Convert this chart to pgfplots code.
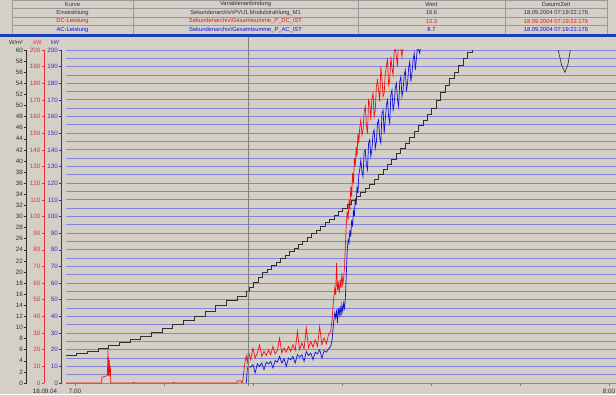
\documentclass[border=0pt]{standalone}
\usepackage{fontspec}
\setmainfont{Liberation Sans}
\usepackage{pgfplots}
\pgfplotsset{compat=1.18}

\definecolor{winbg}{HTML}{D4D0C8}
\definecolor{gridblue}{HTML}{8484DA}
\definecolor{dcred}{HTML}{F01010}
\definecolor{acblue}{HTML}{1010E0}
\definecolor{irrgray}{HTML}{303030}
\definecolor{barblue}{HTML}{1C3FB8}
\definecolor{lblred}{HTML}{E83030}
\definecolor{lblblue}{HTML}{3030C8}
\definecolor{tableline}{HTML}{9A9A9A}

\pgfplotsset{
  trendarea/.style={
    at={(66bp,11bp)}, anchor=south west,
    scale only axis, width=550bp, height=333bp,
    xmin=-1, xmax=60.8,
  },
  scaleaxis/.style={
    anchor=south west,
    scale only axis, width=1bp, height=333bp,
    xmin=0, xmax=1, ymin=0,
    axis x line=none, axis y line=left,
    tick align=outside, major tick length=2.5bp,
    yticklabel style={font=\fontsize{6.3}{7}\selectfont, inner sep=1.2bp},
    /pgf/number format/assume math mode=true,
  },
}

\begin{document}
\begin{tikzpicture}[x=1bp, y=1bp, font=\fontsize{5.8}{6.5}\selectfont]
% window background
\fill[winbg] (0,0) rectangle (616,394);

% ---- curve table ----
\foreach \yy in {394,385.5,377,368.5,360}
  \draw[tableline, line width=0.6bp] (12,\yy) -- (607,\yy);
\foreach \xx in {12,133,358,505,607}
  \draw[tableline, line width=0.6bp] (\xx,360) -- (\xx,394);
\fill[barblue] (0,357) rectangle (616,360);

\begin{scope}[text=irrgray]
\node at (72.5,389.75)  {Kurve};
\node at (245.5,389.75) {Variablenanbindung};
\node at (431.5,389.75) {Wert};
\node at (556,389.75)   {Datum/Zeit};

\node at (72.5,381.25)  {Einstrahlung};
\node at (245.5,381.25) {Sekundenarchiv\textbackslash PVU1.Modulstrahlung\_M1};
\node at (431.5,381.25) {16.6};
\node at (556,381.25)   {18.09.2004 07:19:22.176};
\end{scope}

\begin{scope}[text=dcred]
\node at (72.5,372.75)  {DC-Leistung};
\node at (245.5,372.75) {Sekundenarchiv\textbackslash Gesamtsumme\_P\_DC\_IST};
\node at (431.5,372.75) {12.3};
\node at (556,372.75)   {18.09.2004 07:19:22.176};
\end{scope}

\begin{scope}[text=acblue]
\node at (72.5,364.25)  {AC-Leistung};
\node at (245.5,364.25) {Sekundenarchiv\textbackslash Gesamtsumme\_P\_AC\_IST};
\node at (431.5,364.25) {8.7};
\node at (556,364.25)   {18.09.2004 07:19:22.176};
\end{scope}

% ---- power trends (kW) with grid and time axis ----
\begin{axis}[trendarea,
  ymin=0, ymax=200,
  axis line style={draw=none},
  ytick={0,5,...,200}, yticklabels={}, ytick style={draw=none},
  ymajorgrids, grid style={gridblue, line width=0.9bp},
  xtick={0,10,...,60}, xticklabels={7:00,,,,,,8:00},
  xtick pos=bottom, tick align=outside, major tick length=3bp,
  xtick style={gray, line width=0.6bp},
  xticklabel style={font=\fontsize{6.3}{7}\selectfont, text=irrgray},
  /pgf/number format/assume math mode=true,
]
% DC-Leistung
\addplot[dcred, line width=0.7bp] coordinates {
(-1,0) (2.9,0) (3.0,0.5) (3.05,3.6) (3.3,3.8) (3.5,4.2) (3.65,4.5) (3.72,20)
(3.78,4.5) (3.86,14) (3.92,4) (3.98,10) (4.04,0) (6.5,0) (6.6,0.4) (6.7,0)
(11,0) (11.1,0.4) (11.2,0) (18.2,0) (18.25,1.2) (18.65,1.3) (18.75,0.3)
(18.85,0.5) (19.0,8) (19.15,14) (19.25,16.3) (19.37,12.3) (19.5,19)
(19.75,14) (20.0,21) (20.25,15) (20.5,18) (20.75,23) (21.0,16) (21.25,19)
(21.5,16.5) (21.75,20) (22.0,17) (22.25,22) (22.5,17.5) (22.75,19.5)
(23.0,27) (23.25,18) (23.5,21) (23.75,18.5) (24.0,22) (24.25,19) (24.5,23)
(24.75,19.5) (25.0,31) (25.25,20) (25.5,24) (25.75,20.5) (26.0,33) (26.25,21)
(26.5,25) (26.75,21.5) (27.0,26) (27.25,22) (27.5,34) (27.75,23) (28.0,27)
(28.25,23.5) (28.5,29) (28.75,31)
(28.9,38) (29.0,46) (29.1,52) (29.2,57) (29.3,53) (29.4,72) (29.5,56)
(29.6,60) (29.7,54) (29.8,62) (29.9,57) (30.0,66) (30.1,59) (30.2,63)
(30.3,70) (30.4,84) (30.5,96) (30.6,103) (30.7,98) (30.8,110) (30.9,104)
(31.0,118) (31.1,112) (31.2,126) (31.3,120) (31.4,135) (31.5,130) (31.6,142)
(31.7,136) (31.8,150) (31.9,144) (32.0,153)
(32.125,158) (32.25,149) (32.375,152) (32.5,163) (32.625,166) (32.75,155)
(32.875,150) (33.0,170) (33.125,168) (33.25,158) (33.375,171) (33.5,174)
(33.625,160) (33.75,164) (33.875,178) (34.0,182) (34.125,176) (34.25,169)
(34.375,190) (34.5,183) (34.625,172) (34.75,174) (34.875,186) (35.0,190)
(35.125,195) (35.25,179) (35.375,182) (35.5,196) (35.625,189) (35.75,185)
(35.875,199) (36.0,201) (36.125,196) (36.25,190) (36.375,208) (36.5,205)
(36.75,196) (37.0,210) (37.25,202) (37.5,215) (37.75,220)
};
% AC-Leistung
\addplot[acblue, line width=0.7bp] coordinates {
(19.25,0) (19.3,3) (19.37,8.7) (19.5,10)
(19.75,9.5) (20.0,11) (20.25,6) (20.5,11.5) (20.75,10) (21.0,12) (21.25,8)
(21.5,12.5) (21.75,11.5) (22.0,13) (22.25,9) (22.5,13.5) (22.75,12.5)
(23.0,16) (23.25,12) (23.5,14.5) (23.75,10) (24.0,15) (24.25,14) (24.5,16)
(24.75,12) (25.0,17) (25.25,15.5) (25.5,17) (25.75,13) (26.0,19) (26.25,16.5)
(26.5,18) (26.75,14) (27.0,18.5) (27.25,17.5) (27.5,20) (27.75,15)
(28.0,19.5) (28.25,18.5) (28.5,20.5) (28.75,22)
(28.9,26) (29.0,32) (29.1,38) (29.2,42) (29.3,39) (29.4,44) (29.5,36)
(29.6,45) (29.7,41) (29.8,46) (29.9,40) (30.0,47) (30.1,43) (30.2,48)
(30.3,45) (30.4,52) (30.5,66) (30.6,80) (30.7,86) (30.8,84) (30.9,92)
(31.0,88) (31.1,98) (31.2,94) (31.3,104) (31.4,100) (31.5,111) (31.6,107)
(31.7,118) (31.8,114) (31.9,125) (32.0,128)
(32.125,134) (32.25,127) (32.375,124) (32.5,139) (32.625,140) (32.75,131)
(32.875,128) (33.0,144) (33.125,146) (33.25,136) (33.375,140) (33.5,150)
(33.625,152) (33.75,141) (33.875,145) (34.0,156) (34.125,158) (34.25,147)
(34.375,144) (34.5,162) (34.625,164) (34.75,150) (34.875,158) (35.0,167)
(35.125,170) (35.25,160) (35.375,156) (35.5,173) (35.625,176) (35.75,164)
(35.875,168) (36.0,177) (36.125,180) (36.25,170) (36.375,166) (36.5,181)
(36.625,184) (36.75,172) (36.875,176) (37.0,185) (37.125,188) (37.25,175)
(37.375,180) (37.5,189) (37.625,193) (37.75,181) (37.875,186) (38.0,194)
(38.125,198) (38.25,188) (38.5,202) (38.75,198) (39.0,210)
};
\end{axis}

% ---- irradiance (W/m2), logged as steps ----
\begin{axis}[trendarea, ymin=0, ymax=60, hide axis]
\addplot[const plot, irrgray, line width=0.65bp] coordinates {
(-1.0,4.9) (0.2,5.3) (1.4,5.7) (2.6,6.2) (3.8,6.7) (5.0,7.3) (6.2,7.9)
(7.4,8.5) (8.6,9.2) (9.8,9.85) (11.0,10.6) (12.2,11.3) (13.4,12.0)
(14.6,13.0) (15.8,14.0) (17.0,14.9) (18.2,15.7) (19.3,16.6) (19.6,17.2)
(20.1,18.2) (20.6,19.1) (21.1,19.9) (21.6,20.5) (22.1,21.15) (22.6,21.8)
(23.1,22.4) (23.6,23.05) (24.1,23.7) (24.6,24.3) (25.1,24.95) (25.6,25.6)
(26.1,26.25) (26.6,26.9) (27.1,27.6) (27.6,28.25) (28.1,28.9) (28.6,29.55)
(29.1,30.2) (29.6,30.9) (30.1,31.55) (30.6,32.2) (31.1,32.9) (31.6,33.6)
(32.1,34.3) (32.6,35.0) (33.1,35.85) (33.6,36.75) (34.1,37.65) (34.6,38.55)
(35.1,39.45) (35.6,40.35) (36.1,41.3) (36.6,42.2) (37.1,43.25) (37.6,44.3)
(38.1,45.35) (38.6,46.4) (39.1,47.4) (39.6,48.45) (40.1,49.5) (40.6,50.95)
(41.1,52.45) (41.6,53.65) (42.1,54.85) (42.6,56.05) (43.1,57.25)
(43.6,58.45) (44.1,59.6) (44.6,60.5) (45.1,61.4) (45.6,62.2)
};
\addplot[irrgray, line width=0.65bp] coordinates {
(53.6,62.5) (54.3,60.0) (54.7,57.2) (55.06,56.0) (55.4,57.4) (55.7,60.3)
(56.2,62.5)
};
\end{axis}

% ---- value scales ----
\begin{axis}[scaleaxis, at={(26.7bp,11bp)}, ymax=60,
  ytick={0,2,...,60},
  axis line style={-, draw=irrgray, line width=0.7bp},
  ytick style={irrgray, line width=0.6bp},
  yticklabel style={text=irrgray}]
\end{axis}
\begin{axis}[scaleaxis, at={(44.3bp,11bp)}, ymax=200,
  ytick={0,10,...,200},
  axis line style={-, draw=lblred, line width=0.7bp},
  ytick style={lblred, line width=0.6bp},
  yticklabel style={text=lblred}]
\end{axis}
\begin{axis}[scaleaxis, at={(61.7bp,11bp)}, ymax=200,
  ytick={0,10,...,200},
  axis line style={-, draw=lblblue, line width=0.7bp},
  ytick style={lblblue, line width=0.6bp},
  yticklabel style={text=lblblue}]
\end{axis}

% unit captions above the scales
\node[text=irrgray] at (16,352) {W/m²};
\node[text=lblred]  at (37.5,352) {kW};
\node[text=lblblue] at (55,352) {kW};

% date under the scales
\node[text=irrgray, font=\fontsize{6.3}{7}\selectfont] at (45,3) {18.09.04};

% read-out cursor at 07:19:22
\draw[gray, line width=0.9bp] (248.5,357) -- (248.5,8);

\pgfresetboundingbox
\useasboundingbox (0,0) rectangle (616,394);
\end{tikzpicture}
\end{document}
